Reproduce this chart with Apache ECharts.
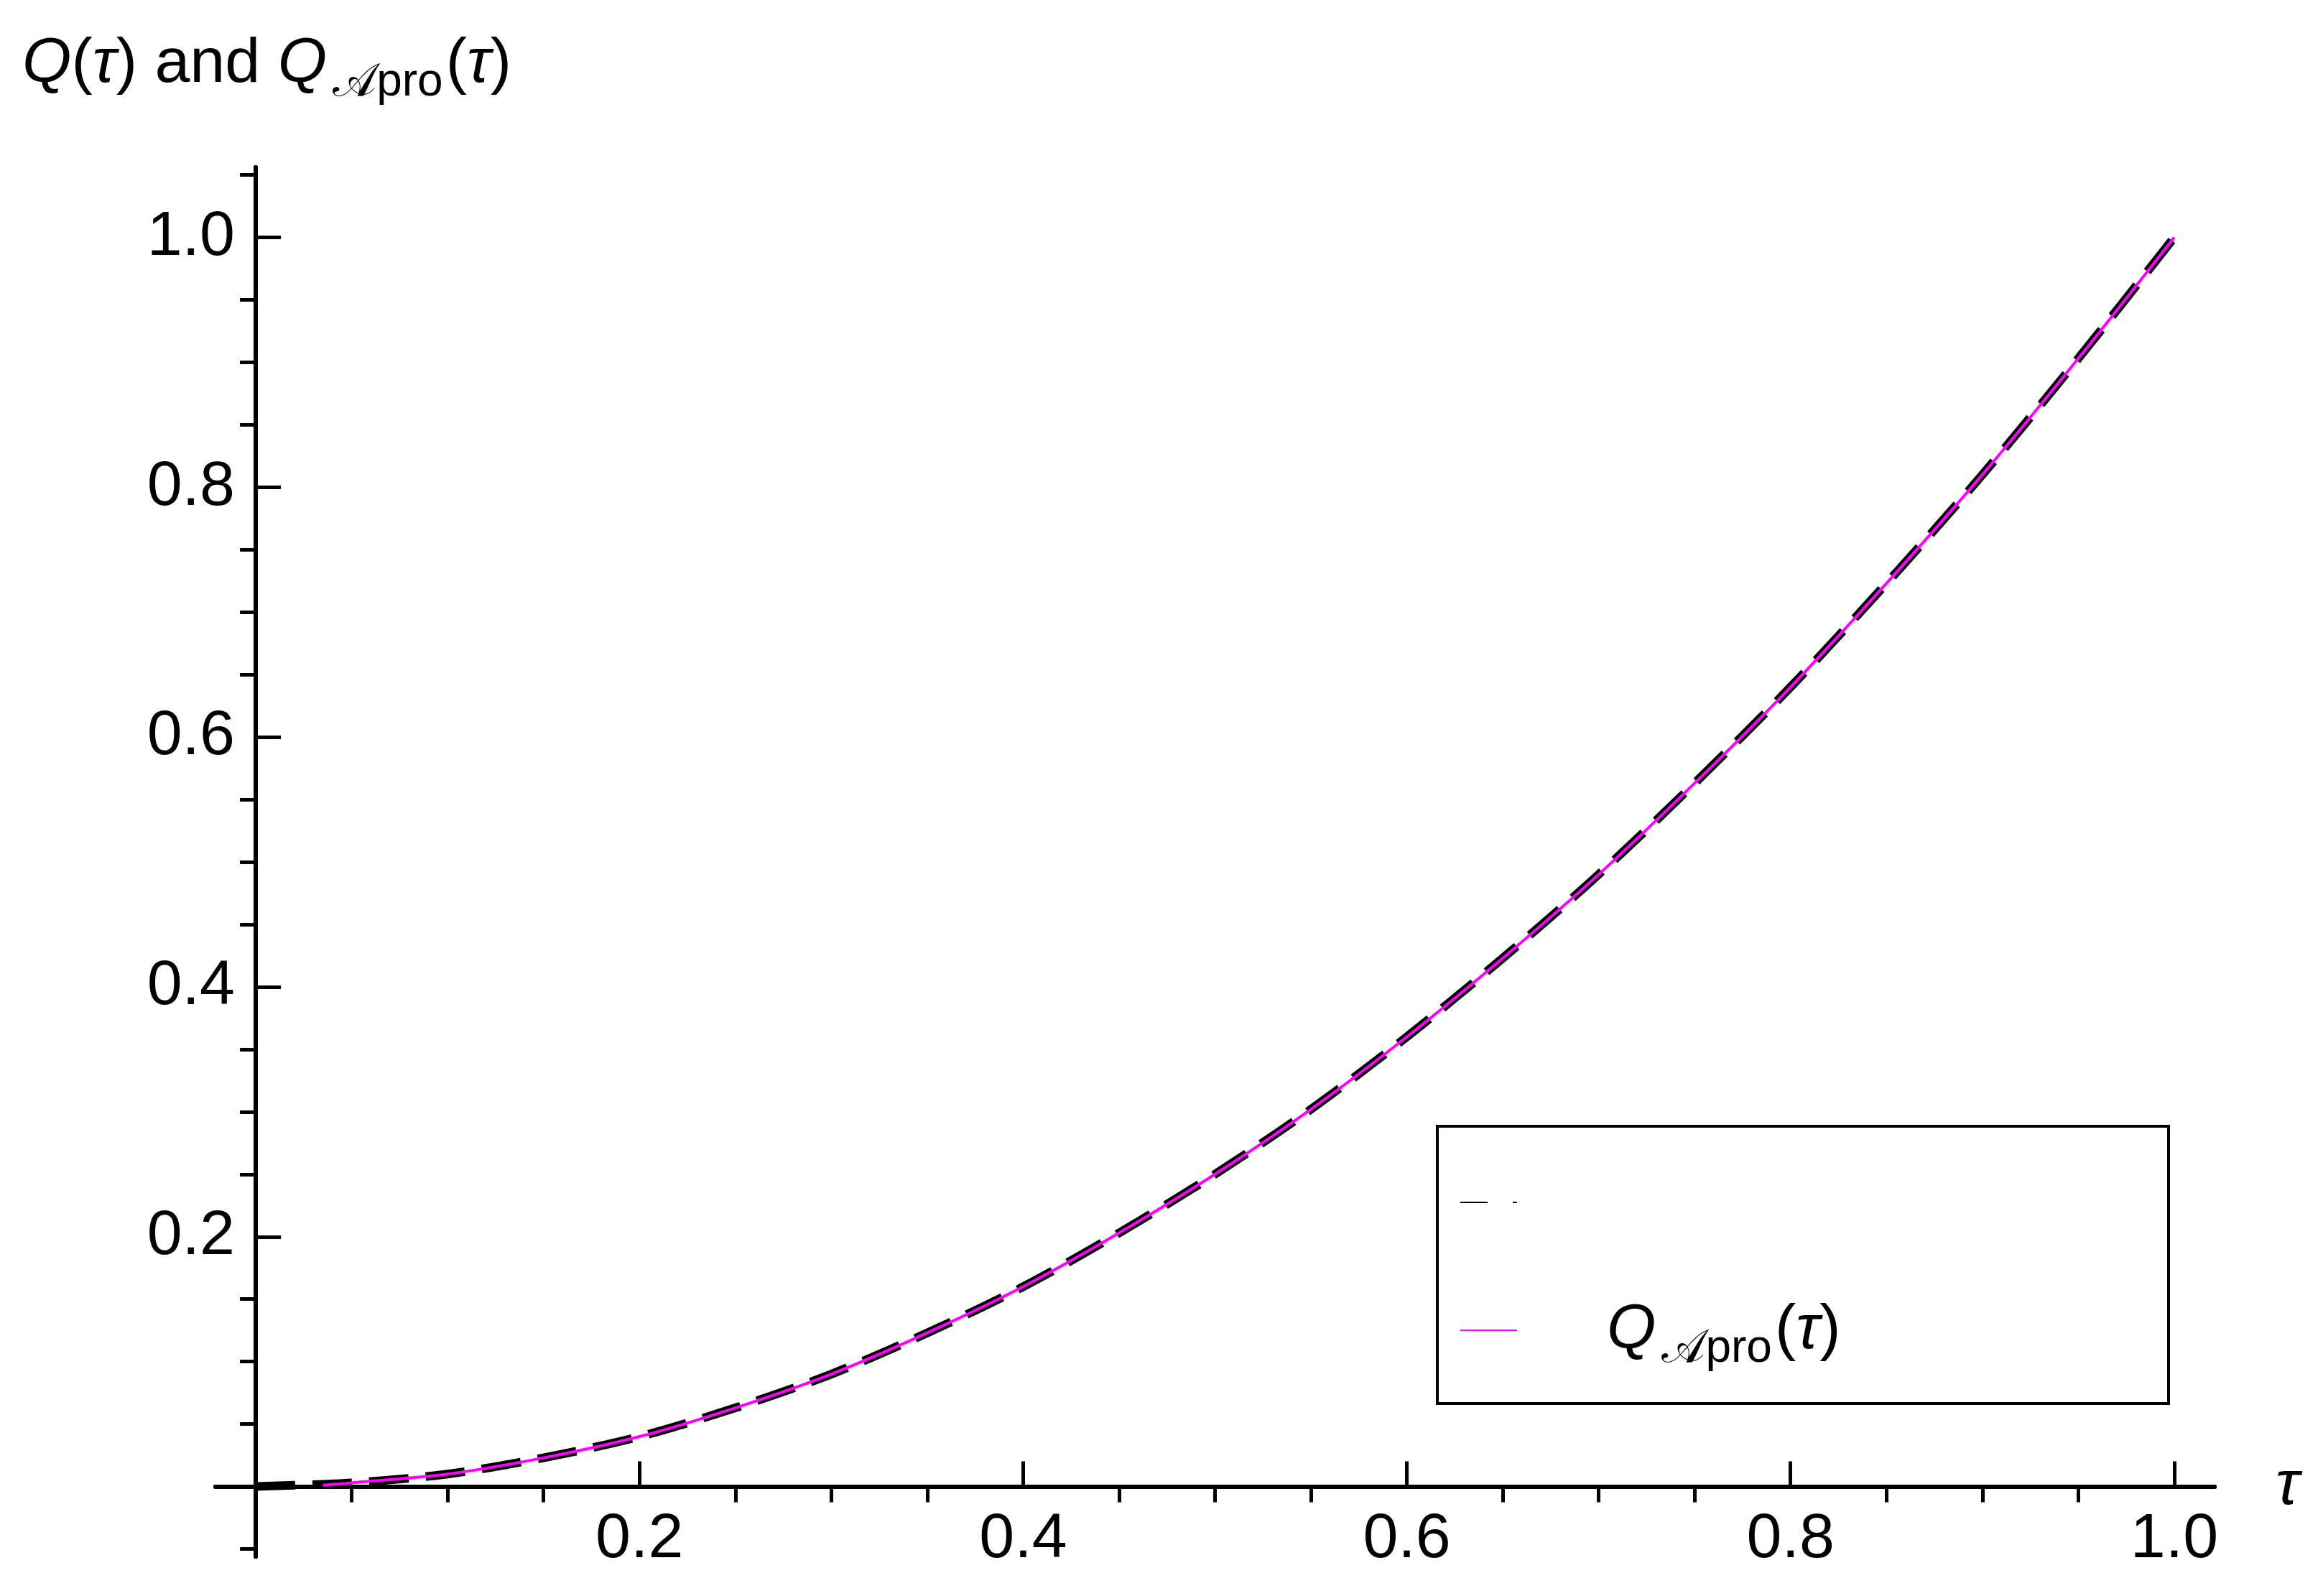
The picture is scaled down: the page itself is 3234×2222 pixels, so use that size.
<!DOCTYPE html>
<html>
<head>
<meta charset="utf-8">
<title>Q(τ) and Q_Apro(τ)</title>
<script src="https://cdn.jsdelivr.net/npm/echarts@6/dist/echarts.min.js"></script>
<style>
  html, body { margin: 0; padding: 0; background: #fff; }
  #chart { width: 3234px; height: 2222px; }
</style>
</head>
<body>
<div id="chart"></div>
<script>
// values
const tau = [0, 0.05, 0.1, 0.15, 0.2, 0.25, 0.3, 0.35, 0.4, 0.45, 0.5,
  0.55, 0.6, 0.65, 0.7, 0.75, 0.8, 0.85, 0.9, 0.95, 1.0]
const qExact = [0, 0.003, 0.01, 0.023, 0.04, 0.063, 0.09, 0.123, 0.16, 0.203, 0.25,
  0.302, 0.36, 0.423, 0.49, 0.563, 0.64, 0.723, 0.81, 0.903, 1.0]
const tauPro = [0.035, 0.05, 0.1, 0.15, 0.2, 0.25, 0.3, 0.35, 0.4, 0.45, 0.5,
  0.55, 0.6, 0.65, 0.7, 0.75, 0.8, 0.85, 0.9, 0.95, 1.0]
const qPro = [0.001, 0.003, 0.01, 0.023, 0.04, 0.063, 0.09, 0.123, 0.16, 0.203, 0.25,
  0.302, 0.36, 0.423, 0.49, 0.563, 0.64, 0.723, 0.81, 0.903, 1.0]

const majorTicks = [0.2, 0.4, 0.6, 0.8, 1.0]
const minorTicksX = [0.05, 0.1, 0.15, 0.25, 0.3, 0.35, 0.45, 0.5, 0.55, 0.65, 0.7, 0.75, 0.85, 0.9, 0.95]
const minorTicksY = [-0.05, 0.05, 0.1, 0.15, 0.25, 0.3, 0.35, 0.45, 0.5, 0.55, 0.65, 0.7, 0.75, 0.85, 0.9, 0.95, 1.05]

const FONT = '"Liberation Sans", Arial, sans-serif'
const FS = 88

const chart = echarts.init(document.getElementById('chart'))

const axisBase = {
  type: 'value',
  gridIndex: 0,
  splitLine: { show: false },
  axisLine: { show: true, onZero: true, lineStyle: { color: '#000', width: 6 } }
}

const richMath = {
  qi: { fontFamily: FONT, fontSize: FS, fontStyle: 'italic', fontWeight: 'normal', color: '#000' },
  ti: { fontFamily: FONT, fontSize: FS, fontStyle: 'italic', fontWeight: 'normal', color: '#000' },
  n: { fontFamily: FONT, fontSize: FS, fontWeight: 'normal', color: '#000' },
  sub: { fontFamily: FONT, fontSize: 64, fontWeight: 'normal', color: '#000', padding: [50, 4, 0, 8] }
}

const option = {
  animation: false,
  backgroundColor: '#fff',
  grid: { left: 300, right: 151, top: 233, bottom: 55, outerBoundsMode: 'none', containLabel: false },
  title: {
    left: 26, top: 28,
    text: '{qi|Q}{n|(}{ti|τ}{n|) and }{qi|Q}{sub|𝒜pro}{n|(}{ti|τ}{n|)}',
    textStyle: { fontWeight: 'normal', rich: richMath }
  },
  xAxis: [
    Object.assign({}, axisBase, {
      min: -0.021, max: 1.021,
      name: 'τ', nameLocation: 'end', nameGap: 85,
      nameTextStyle: { fontFamily: FONT, fontSize: FS, fontStyle: 'italic', color: '#000',
        align: 'left', verticalAlign: 'middle', padding: [130, 0, 0, 0] },
      axisTick: { show: true, inside: true, length: 35, lineStyle: { color: '#000', width: 5 }, customValues: majorTicks },
      axisLabel: { show: true, margin: -67, fontFamily: FONT, fontSize: FS, color: '#000', customValues: majorTicks,
        formatter: v => v.toFixed(1) }
    }),
    Object.assign({}, axisBase, {
      min: -0.021, max: 1.021,
      axisTick: { show: true, inside: true, length: 22, lineStyle: { color: '#000', width: 5 }, customValues: minorTicksX },
      axisLabel: { show: false }
    })
  ],
  yAxis: [
    Object.assign({}, axisBase, {
      min: -0.056, max: 1.056,
      axisTick: { show: true, inside: true, length: 35, lineStyle: { color: '#000', width: 5 }, customValues: majorTicks },
      axisLabel: { show: true, margin: -27, fontFamily: FONT, fontSize: FS, color: '#000', customValues: majorTicks,
        formatter: v => v.toFixed(1) }
    }),
    Object.assign({}, axisBase, {
      min: -0.056, max: 1.056,
      axisTick: { show: true, inside: true, length: 22, lineStyle: { color: '#000', width: 5 }, customValues: minorTicksY },
      axisLabel: { show: false }
    })
  ],
  series: [
    {
      name: 'Q(τ)',
      type: 'line',
      xAxisIndex: 0, yAxisIndex: 0,
      data: tau.map((t, i) => [t, qExact[i]]),
      smooth: 0.3,
      showSymbol: false,
      lineStyle: { color: '#000', width: 12, type: [55, 24], cap: 'butt' },
      z: 3
    },
    {
      name: 'Q_Apro(τ)',
      type: 'line',
      xAxisIndex: 0, yAxisIndex: 0,
      data: tauPro.map((t, i) => [t, qPro[i]]),
      smooth: 0.3,
      showSymbol: false,
      lineStyle: { color: '#ff00ff', width: 4 },
      z: 4
    }
  ],
  graphic: [
    {
      type: 'group',
      left: 1999, top: 1566,
      children: [
        { type: 'rect', shape: { x: 0, y: 0, width: 1018, height: 386 },
          style: { fill: '#fff', stroke: '#000', lineWidth: 4 } },
        { type: 'line', shape: { x1: 32, y1: 106, x2: 70, y2: 106 }, style: { stroke: '#000', lineWidth: 2 } },
        { type: 'line', shape: { x1: 105, y1: 106, x2: 111, y2: 106 }, style: { stroke: '#000', lineWidth: 2 } },
        { type: 'line', shape: { x1: 32, y1: 284, x2: 111, y2: 284 }, style: { stroke: '#ff00ff', lineWidth: 2 } },
        { type: 'text', x: 236, y: 228,
          style: { text: '{qi|Q}{sub|𝒜pro}{n|(}{ti|τ}{n|)}', rich: richMath } }
      ]
    }
  ]
}

chart.setOption(option)
window.addEventListener('resize', () => chart.resize())
</script>
</body>
</html>
